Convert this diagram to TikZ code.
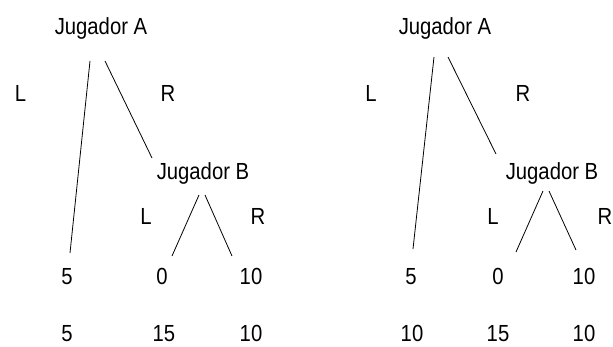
\documentclass[tikz,border=0pt]{standalone}
\usepackage{fontspec}
% narrow grotesque look: Liberation Sans, horizontally condensed
\setmainfont[FakeStretch=0.87]{Liberation Sans}
\begin{document}
\begin{tikzpicture}[x=1pt,y=-1pt,
  lbl/.style={inner sep=0pt,anchor=base,font=\fontsize{23.3}{27}\selectfont},
  edge/.style={line width=0.8pt}]
\useasboundingbox (0,0) rectangle (613,346);

% ---- left game ----
\node[lbl] (A1) at (101,34) {Jugador A};
\node[lbl] (A1L) at (20.5,101) {L};
\node[lbl] (A1R) at (168,101) {R};
\node[lbl] (B1) at (203,179) {Jugador B};
\node[lbl] (B1L) at (146,224) {L};
\node[lbl] (B1R) at (258,224) {R};
\node[lbl] (p1a) at (67,284) {5};
\node[lbl] (p1b) at (162,284) {0};
\node[lbl] (p1c) at (251,284) {10};
\node[lbl] (q1a) at (67,341.5) {5};
\node[lbl] (q1b) at (164,341.5) {15};
\node[lbl] (q1c) at (251,341.5) {10};

\coordinate (A1s1) at (90,61);
\coordinate (A1s2) at (105,61);
\coordinate (p1at) at (70,253);
\coordinate (B1t) at (152,158);
\coordinate (B1s1) at (199,195);
\coordinate (B1s2) at (205,195);
\coordinate (p1bt) at (172,256);
\coordinate (p1ct) at (232,256);

\draw[edge] (A1s1) -- (p1at);
\draw[edge] (A1s2) -- (B1t);
\draw[edge] (B1s1) -- (p1bt);
\draw[edge] (B1s2) -- (p1ct);

% ---- right game ----
\node[lbl] (A2) at (445,34) {Jugador A};
\node[lbl] (A2L) at (371,101) {L};
\node[lbl] (A2R) at (523,101) {R};
\node[lbl] (B2) at (552,179) {Jugador B};
\node[lbl] (B2L) at (493,224) {L};
\node[lbl] (B2R) at (605,224) {R};
\node[lbl] (p2a) at (411,284) {5};
\node[lbl] (p2b) at (498,284) {0};
\node[lbl] (p2c) at (584,284) {10};
\node[lbl] (q2a) at (412,341.5) {10};
\node[lbl] (q2b) at (498,341.5) {15};
\node[lbl] (q2c) at (584,341.5) {10};

\coordinate (A2s1) at (434,57);
\coordinate (A2s2) at (448,57);
\coordinate (p2at) at (413,249);
\coordinate (B2t) at (496,154);
\coordinate (B2s1) at (543,191);
\coordinate (B2s2) at (549,191);
\coordinate (p2bt) at (516,252);
\coordinate (p2ct) at (576,250);

\draw[edge] (A2s1) -- (p2at);
\draw[edge] (A2s2) -- (B2t);
\draw[edge] (B2s1) -- (p2bt);
\draw[edge] (B2s2) -- (p2ct);
\end{tikzpicture}
\end{document}
